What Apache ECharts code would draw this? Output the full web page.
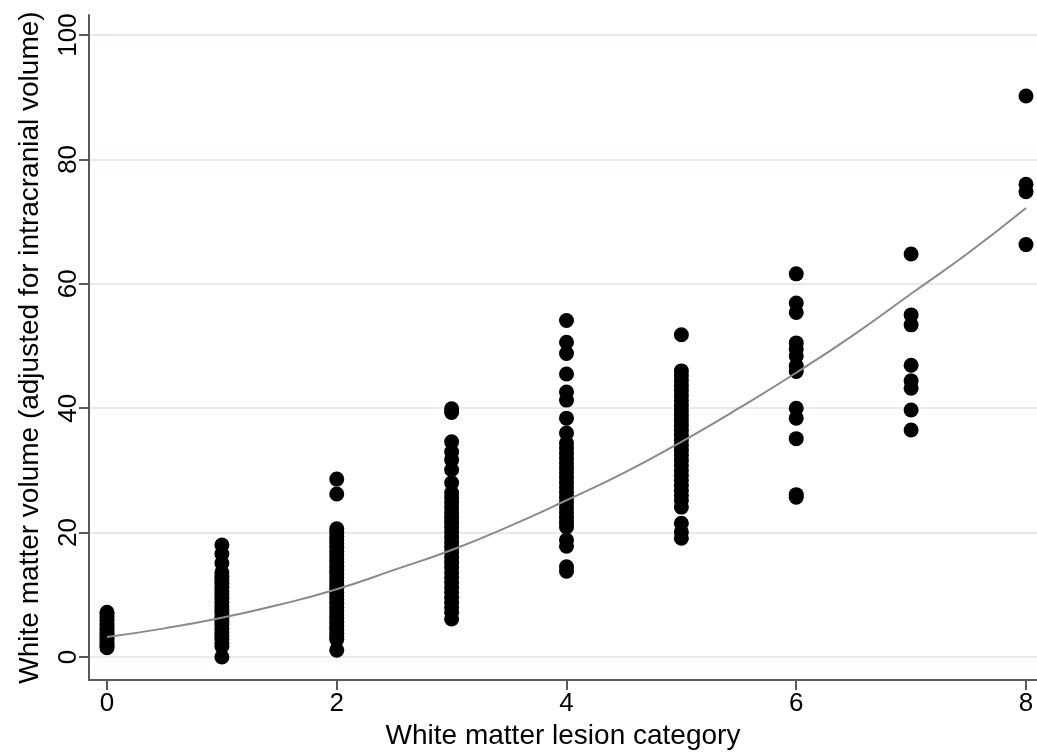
<!DOCTYPE html>
<html>
<head>
<meta charset="utf-8">
<script src="https://cdn.jsdelivr.net/npm/echarts@6/dist/echarts.min.js"></script>
<style>html,body{margin:0;padding:0;background:#fff}#c{width:1037px;height:753px}</style>
</head>
<body>
<div id="c"></div>
<script>
// Lesion categories and observed white matter volumes per category
const categories = [0, 1, 2, 3, 4, 5, 6, 7, 8];
const col0 = [7.2, 6.8, 6.3, 5.9, 5.4, 5.0, 4.6, 4.2, 3.8, 3.4, 3.0, 2.6, 2.2, 1.8, 1.5];
const col1 = [18.0, 16.6, 15.1, 13.6, 13.0, 12.4, 11.8, 11.2, 10.6, 10.0, 9.4, 8.8, 8.2, 7.6, 7.0, 6.4, 5.8, 5.2, 4.6, 4.0, 3.4, 2.8, 2.2, 1.7, 0.0];
const col2 = [28.6, 26.2, 20.6, 20.0, 19.4, 18.8, 18.2, 17.6, 17.0, 16.4, 15.8, 15.2, 14.6, 14.0, 13.4, 12.8, 12.2, 11.6, 11.0, 10.4, 9.8, 9.2, 8.6, 8.0, 7.4, 6.8, 6.2, 5.6, 5.0, 4.4, 3.8, 3.2, 2.8, 1.1];
const col3 = [39.9, 39.3, 34.6, 33.0, 31.7, 30.1, 28.0, 26.4, 25.6, 24.8, 24.0, 23.2, 22.4, 21.6, 20.8, 20.0, 19.2, 18.4, 17.6, 16.8, 16.0, 15.2, 14.4, 13.6, 12.8, 12.0, 11.2, 10.4, 9.6, 8.8, 8.0, 7.2, 6.1];
const col4 = [54.1, 50.6, 48.8, 45.5, 42.6, 41.3, 38.4, 36.0, 34.4, 33.6, 32.8, 32.0, 31.2, 30.4, 29.6, 28.8, 28.0, 27.2, 26.4, 25.6, 24.8, 24.0, 23.2, 22.4, 21.6, 20.9, 18.8, 17.8, 14.5, 13.8];
const col5 = [51.8, 46.0, 45.2, 44.4, 43.6, 42.8, 42.0, 41.2, 40.4, 39.6, 38.8, 38.0, 37.2, 36.4, 35.6, 34.8, 34.0, 33.2, 32.4, 31.6, 30.8, 30.0, 29.2, 28.4, 27.6, 26.8, 26.0, 25.2, 24.1, 21.5, 20.1, 19.1];
const col6 = [61.6, 56.9, 55.4, 50.5, 49.5, 48.4, 46.8, 45.9, 40.0, 38.4, 35.1, 26.1, 25.7];
const col7 = [64.8, 55.0, 53.4, 46.9, 44.4, 43.2, 39.7, 36.5];
const col8 = [90.2, 76.0, 74.8, 66.3];
const columns = [col0, col1, col2, col3, col4, col5, col6, col7, col8];

// Fitted curve
const fitX = [0, 0.5, 1, 1.5, 2, 2.5, 3, 3.5, 4, 4.5, 5, 5.5, 6, 6.5, 7, 7.5, 8];
const fitY = [3.2, 4.6, 6.3, 8.4, 10.9, 14.0, 17.2, 21.0, 25.2, 29.6, 34.6, 40.0, 45.7, 51.8, 58.4, 65.0, 72.2];

const xTicks = [0, 2, 4, 6, 8];
const yTicks = [0, 20, 40, 60, 80, 100];

const points = [];
categories.forEach((c, i) => columns[i].forEach(v => points.push([c, v])));
const fit = fitX.map((x, i) => [x, fitY[i]]);

const FONT = 'Liberation Sans';
const axisColor = '#5a5a5a';

const chart = echarts.init(document.getElementById('c'));
chart.setOption({
  animation: false,
  backgroundColor: '#fff',
  grid: { left: 89, right: 0, top: 15, bottom: 73, containLabel: false, outerBoundsMode: 'none' },
  xAxis: {
    type: 'value', min: -0.1567, max: 8.0958,
    name: 'White matter lesion category', nameLocation: 'middle', nameGap: 37,
    nameTextStyle: { fontFamily: FONT, fontSize: 28, color: '#000' },
    axisLine: { show: true, onZero: false, lineStyle: { color: axisColor, width: 2 } },
    axisTick: { show: true, customValues: xTicks, length: 10, lineStyle: { color: axisColor, width: 2 } },
    axisLabel: { customValues: xTicks, fontFamily: FONT, fontSize: 26, color: '#000', margin: 11 },
    splitLine: { show: false }
  },
  yAxis: {
    type: 'value', min: -3.698, max: 103.215,
    name: 'White matter volume (adjusted for intracranial volume)', nameLocation: 'middle', nameGap: 45,
    nameTextStyle: { fontFamily: FONT, fontSize: 28, color: '#000' },
    axisLine: { show: true, onZero: false, lineStyle: { color: axisColor, width: 2 } },
    axisTick: { show: true, customValues: yTicks, length: 10, lineStyle: { color: axisColor, width: 2 } },
    axisLabel: { customValues: yTicks, rotate: 90, fontFamily: FONT, fontSize: 26, color: '#000', margin: 7 },
    splitLine: { show: false }
  },
  series: [
    {
      type: 'scatter', data: [], z: 1, silent: true,
      markLine: {
        z: 0, silent: true, symbol: ['none', 'none'], label: { show: false },
        lineStyle: { color: '#e4ecee', width: 2, type: 'solid' },
        data: yTicks.map(v => ({ yAxis: v }))
      }
    },
    {
      type: 'scatter', data: points, z: 2, symbol: 'circle', symbolSize: 15,
      itemStyle: { color: '#000', opacity: 1 }
    },
    {
      type: 'line', data: fit, z: 3, smooth: true, symbol: 'none',
      lineStyle: { color: '#8a8a8a', width: 2 }
    }
  ]
});
</script>
</body>
</html>
